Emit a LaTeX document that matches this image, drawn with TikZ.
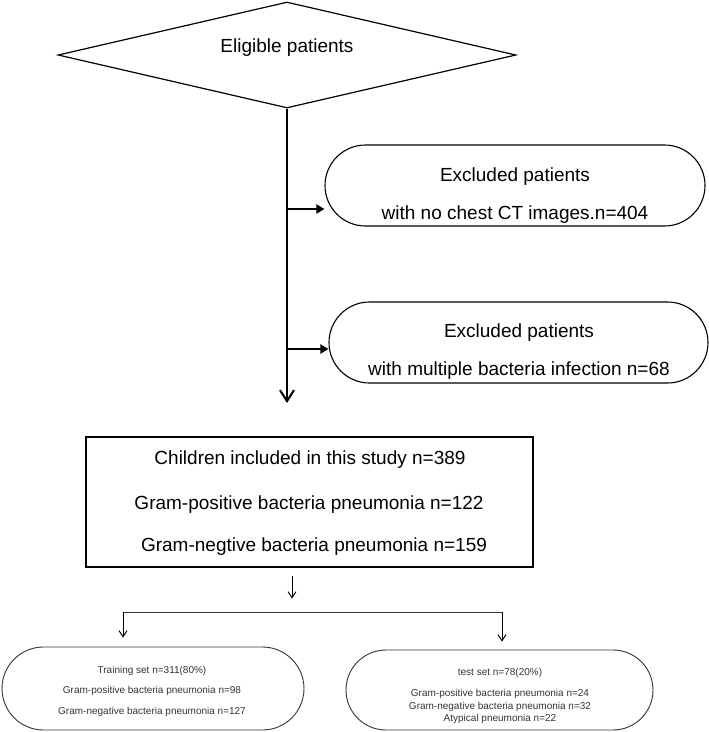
\documentclass[tikz,border=0pt]{standalone}
\usepackage{fontspec}
\setmainfont{Liberation Sans}
\usetikzlibrary{shapes.geometric,shapes.misc,arrows.meta,calc}
\definecolor{lowgray}{gray}{0.2}
\begin{document}
\begin{tikzpicture}[x=1pt,y=-1pt,
  bigtext/.style={font=\fontsize{19}{19}\selectfont, inner sep=0pt},
  smalltext/.style={font=\fontsize{10}{10}\selectfont, inner sep=0pt, text=lowgray},
  pill/.style={draw, rounded rectangle, inner sep=0pt, line width=1.1pt},
  smallpill/.style={draw=lowgray, rounded rectangle, inner sep=0pt, line width=0.9pt},
  mainarrow/.style={line width=2pt, -{Straight Barb[length=11pt,width=14pt]}},
  sidearrow/.style={line width=2pt, -{Triangle[length=8pt,width=9pt]}},
  thinarrow/.style={line width=1pt, -{Straight Barb[length=6pt,width=8pt]}},
  thinline/.style={line width=1pt, draw=lowgray}]
\useasboundingbox (0,0) rectangle (709,732);

% diamond
\node[draw, diamond, minimum width=458pt, minimum height=106pt, inner sep=0pt, line width=1.2pt] (dia) at (287,55) {};
\node[bigtext] (elig) at (287,48) {Eligible patients};

% main vertical line
\coordinate (tip) at (287,403);
\draw[mainarrow] (dia.south) -- (tip);

% exclusion 1
\node[pill, minimum width=380pt, minimum height=81pt] (ex1) at (515,185.5) {};
\node[bigtext] (ex1a) at (515,177) {Excluded patients};
\node[bigtext] (ex1b) at (515,215) {with no chest CT images.n=404};
\coordinate (j1) at (287,209);
\draw[sidearrow] (j1) -- (j1 -| ex1.west);

% exclusion 2
\node[pill, minimum width=379pt, minimum height=81pt] (ex2) at (518.5,342.5) {};
\node[bigtext] (ex2a) at (519,333) {Excluded patients};
\node[bigtext] (ex2b) at (519,371) {with multiple bacteria infection n=68};
\coordinate (j2) at (287,349);
\draw[sidearrow] (j2) -- (j2 -| ex2.west);

% included box
\node[draw, minimum width=447pt, minimum height=130pt, inner sep=0pt, line width=1.2pt] (box) at (309.5,502) {};
\node[bigtext] (boxa) at (310,460) {Children included in this study n=389};
\node[bigtext] (boxb) at (309,505) {Gram-positive bacteria pneumonia n=122};
\node[bigtext] (boxc) at (314,547) {Gram-negtive bacteria pneumonia n=159};
\draw[thinarrow] ([xshift=-17.5pt,yshift=-8pt]box.south) -- ++(0,23);

% split
\node[smallpill, minimum width=302pt, minimum height=83pt] (tr) at (153,688.5) {};
\node[smallpill, minimum width=307pt, minimum height=80pt] (te) at (499.5,690) {};
\coordinate (bl) at (123,612);
\coordinate (br) at (502,612);
\draw[thinline] (bl) -- (br);
\draw[thinarrow] (bl) -- ($(bl |- tr.north)+(0,-9)$);
\draw[thinarrow] (br) -- ($(br |- te.north)+(0,-8)$);

% training texts
\node[smalltext] (tr1) at (152,671) {Training set n=311(80\%)};
\node[smalltext] (tr2) at (152,691) {Gram-positive bacteria pneumonia n=98};
\node[smalltext] (tr3) at (152,712) {Gram-negative bacteria pneumonia n=127};

% test texts
\node[smalltext] (te1) at (500,673) {test set n=78(20\%)};
\node[smalltext] (te2) at (500,694) {Gram-positive bacteria pneumonia n=24};
\node[smalltext] (te3) at (500,707) {Gram-negative bacteria pneumonia n=32};
\node[smalltext] (te4) at (500,719) {Atypical pneumonia n=22};
\end{tikzpicture}
\end{document}
